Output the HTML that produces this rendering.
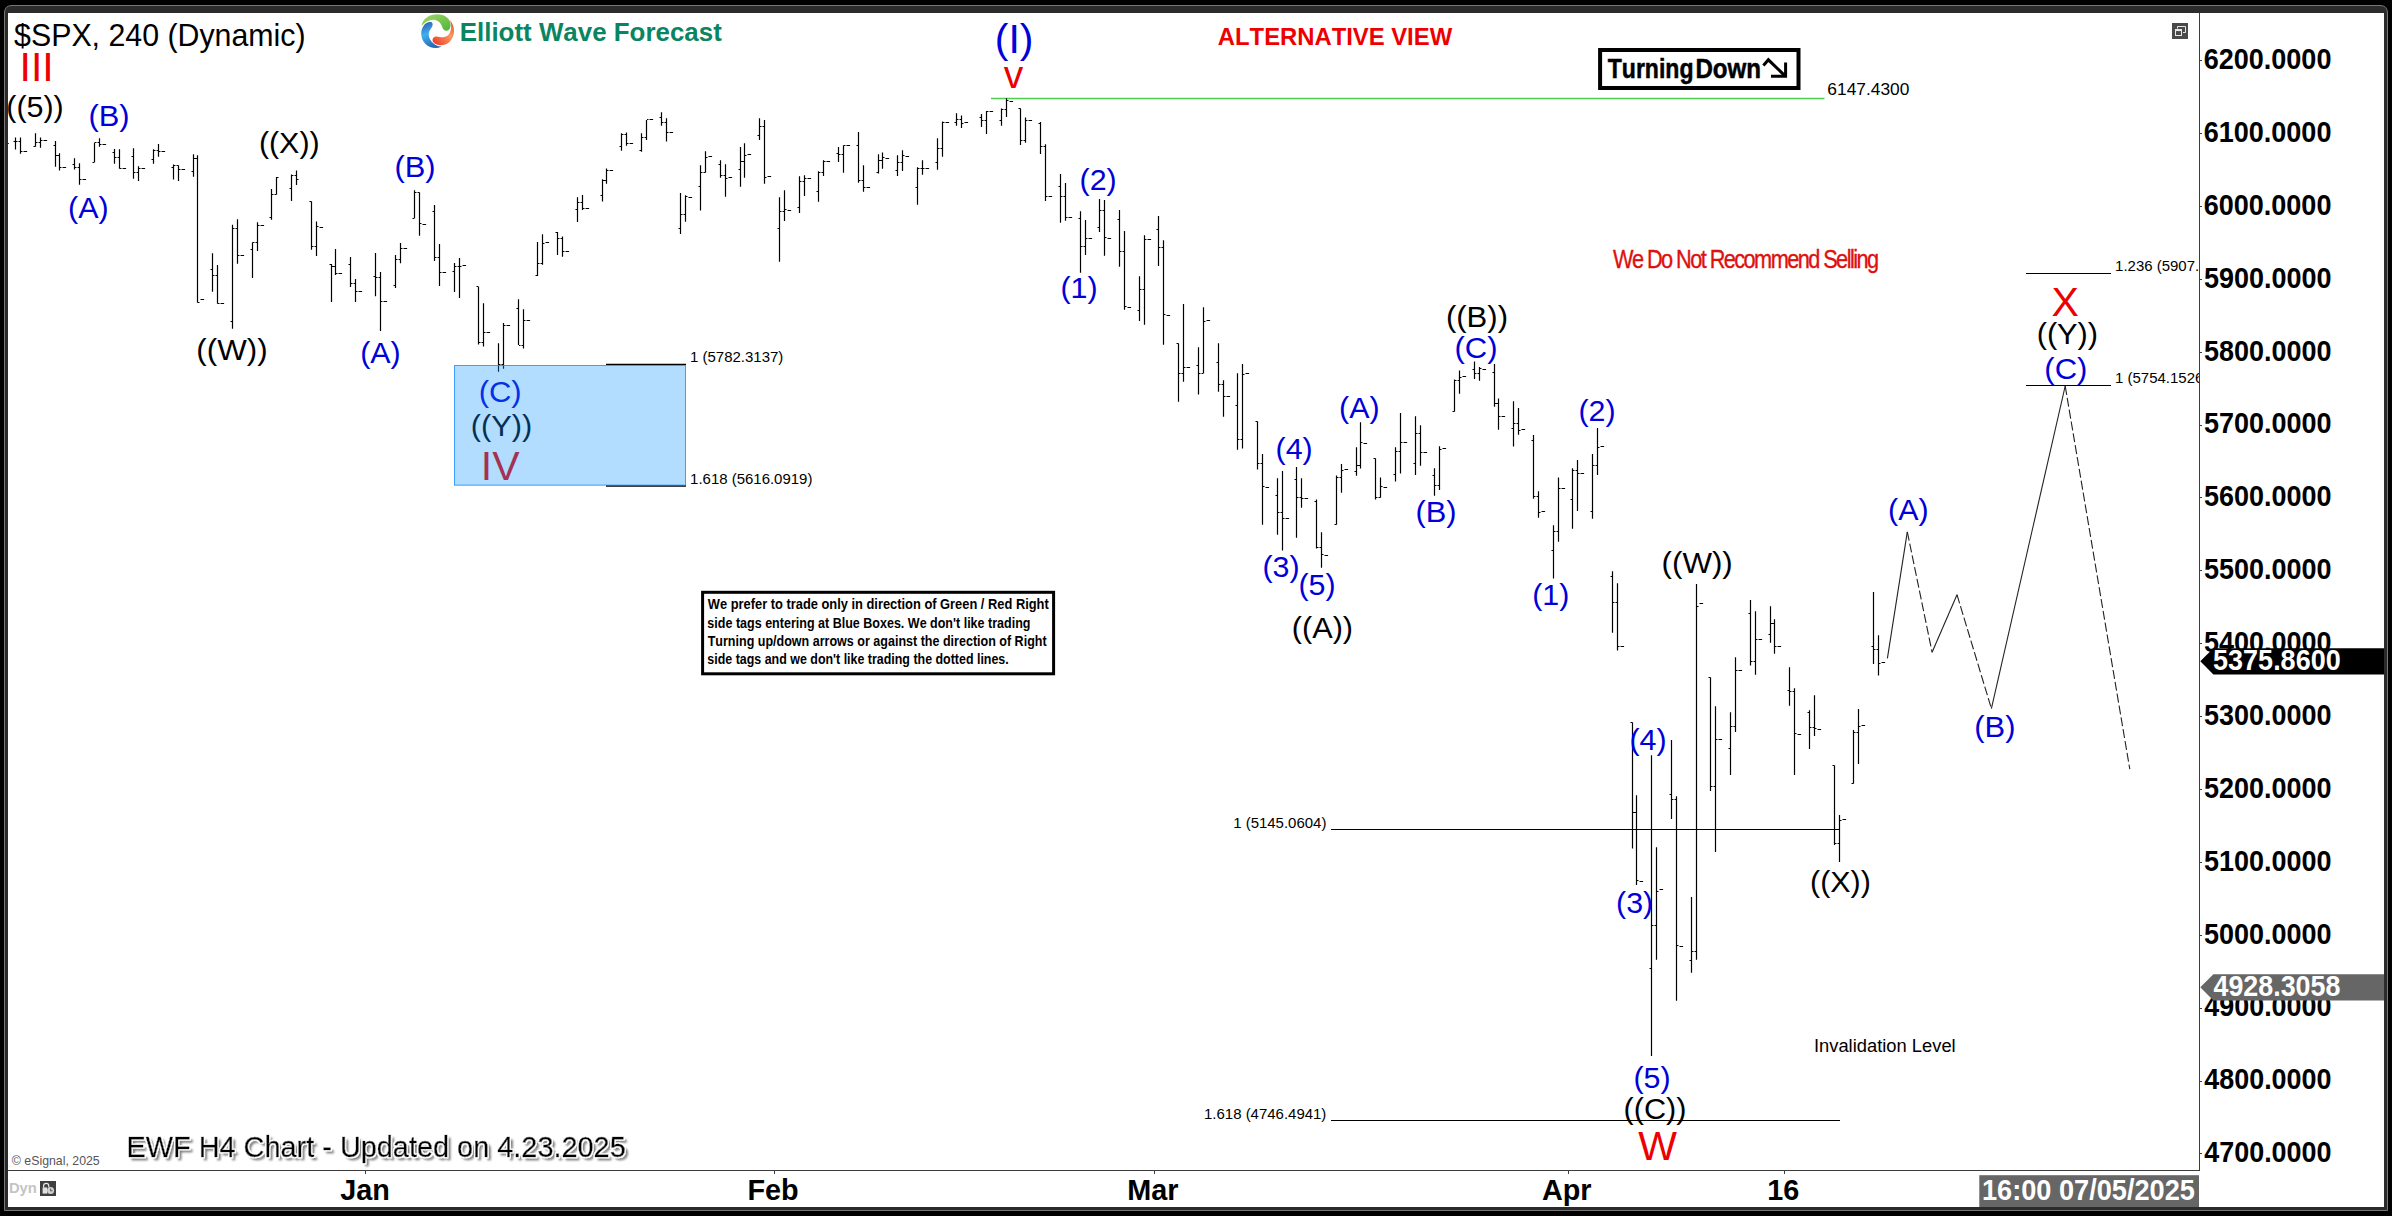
<!DOCTYPE html>
<html lang="en"><head><meta charset="utf-8"><title>$SPX, 240 (Dynamic) - Elliott Wave Forecast</title>
<style>
html,body{margin:0;padding:0;background:#000;}
body{width:2392px;height:1216px;overflow:hidden;}
svg{display:block;font-family:"Liberation Sans",sans-serif;}
text{white-space:pre;font-kerning:none;}
</style></head>
<body>
<svg width="2392" height="1216" viewBox="0 0 2392 1216">
<rect x="0" y="0" width="2392" height="1216" fill="#000"/>
<path d="M4.5 1210.5 V13 Q4.5 5.5 12 5.5 H2380 Q2387.5 5.5 2387.5 13 V1210.5 Z" fill="#2b2b2b" stroke="#777" stroke-width="1"/>
<rect x="8" y="13" width="2376" height="1194" fill="#fff"/>
<g stroke="#3c3c3c" stroke-width="1" shape-rendering="crispEdges">
<line x1="2199.5" y1="13" x2="2199.5" y2="1171.0"/>
<line x1="8" y1="1170.5" x2="2199.5" y2="1170.5"/>
<line x1="2199.5" y1="1153.5" x2="2202.0" y2="1153.5"/>
<line x1="2199.5" y1="1081.5" x2="2202.0" y2="1081.5"/>
<line x1="2199.5" y1="1008.5" x2="2202.0" y2="1008.5"/>
<line x1="2199.5" y1="935.5" x2="2202.0" y2="935.5"/>
<line x1="2199.5" y1="862.5" x2="2202.0" y2="862.5"/>
<line x1="2199.5" y1="789.5" x2="2202.0" y2="789.5"/>
<line x1="2199.5" y1="716.5" x2="2202.0" y2="716.5"/>
<line x1="2199.5" y1="643.5" x2="2202.0" y2="643.5"/>
<line x1="2199.5" y1="570.5" x2="2202.0" y2="570.5"/>
<line x1="2199.5" y1="497.5" x2="2202.0" y2="497.5"/>
<line x1="2199.5" y1="425.5" x2="2202.0" y2="425.5"/>
<line x1="2199.5" y1="352.5" x2="2202.0" y2="352.5"/>
<line x1="2199.5" y1="279.5" x2="2202.0" y2="279.5"/>
<line x1="2199.5" y1="206.5" x2="2202.0" y2="206.5"/>
<line x1="2199.5" y1="133.5" x2="2202.0" y2="133.5"/>
<line x1="2199.5" y1="60.5" x2="2202.0" y2="60.5"/>
<line x1="365.5" y1="1170.5" x2="365.5" y2="1173.5"/>
<line x1="774.5" y1="1170.5" x2="774.5" y2="1173.5"/>
<line x1="1154.5" y1="1170.5" x2="1154.5" y2="1173.5"/>
<line x1="1568.5" y1="1170.5" x2="1568.5" y2="1173.5"/>
<line x1="1784.5" y1="1170.5" x2="1784.5" y2="1173.5"/>
</g>
<g id="price-axis">
<text transform="translate(2203.75 69.00) scale(0.9382 1)" font-size="28.80" fill="#000" font-weight="bold">6200.0000</text>
<text transform="translate(2203.75 141.88) scale(0.9382 1)" font-size="28.80" fill="#000" font-weight="bold">6100.0000</text>
<text transform="translate(2203.75 214.76) scale(0.9382 1)" font-size="28.80" fill="#000" font-weight="bold">6000.0000</text>
<text transform="translate(2203.89 287.64) scale(0.9372 1)" font-size="28.80" fill="#000" font-weight="bold">5900.0000</text>
<text transform="translate(2203.89 360.52) scale(0.9372 1)" font-size="28.80" fill="#000" font-weight="bold">5800.0000</text>
<text transform="translate(2203.89 433.40) scale(0.9372 1)" font-size="28.80" fill="#000" font-weight="bold">5700.0000</text>
<text transform="translate(2203.89 506.28) scale(0.9372 1)" font-size="28.80" fill="#000" font-weight="bold">5600.0000</text>
<text transform="translate(2203.89 579.16) scale(0.9372 1)" font-size="28.80" fill="#000" font-weight="bold">5500.0000</text>
<text transform="translate(2203.89 652.04) scale(0.9372 1)" font-size="28.80" fill="#000" font-weight="bold">5400.0000</text>
<text transform="translate(2203.89 724.92) scale(0.9372 1)" font-size="28.80" fill="#000" font-weight="bold">5300.0000</text>
<text transform="translate(2203.89 797.80) scale(0.9372 1)" font-size="28.80" fill="#000" font-weight="bold">5200.0000</text>
<text transform="translate(2203.89 870.68) scale(0.9372 1)" font-size="28.80" fill="#000" font-weight="bold">5100.0000</text>
<text transform="translate(2203.89 943.56) scale(0.9372 1)" font-size="28.80" fill="#000" font-weight="bold">5000.0000</text>
<text transform="translate(2204.30 1016.44) scale(0.9342 1)" font-size="28.80" fill="#000" font-weight="bold">4900.0000</text>
<text transform="translate(2204.30 1089.32) scale(0.9342 1)" font-size="28.80" fill="#000" font-weight="bold">4800.0000</text>
<text transform="translate(2204.30 1162.20) scale(0.9342 1)" font-size="28.80" fill="#000" font-weight="bold">4700.0000</text>
</g>
<g id="time-axis">
<text x="340.25" y="1200.00" font-size="28.80" fill="#000" font-weight="bold">Jan</text>
<text x="747.45" y="1200.00" font-size="28.80" fill="#000" font-weight="bold">Feb</text>
<text x="1127.36" y="1200.00" font-size="28.80" fill="#000" font-weight="bold">Mar</text>
<text x="1541.92" y="1200.00" font-size="28.80" fill="#000" font-weight="bold">Apr</text>
<text x="1767.24" y="1200.00" font-size="28.80" fill="#000" font-weight="bold">16</text>
</g>
<line x1="991" y1="98.5" x2="1824.5" y2="98.5" stroke="#4fcf4f" stroke-width="1.3"/>
<text transform="translate(1827.33 94.90) scale(1.0039 1)" font-size="17.30" fill="#000">6147.4300</text>
<g id="bars" stroke="#000" stroke-width="1.2" fill="none">
<path d="M1006.5 98.2V117.0M1020.5 108.2V145.0M1001.5 108.6V125.8M986.5 111.1V133.9M661.5 112.3V125.7M956.5 113.2V125.8M981.5 114.1V127.0M961.5 115.4V127.9M1025.5 117.4V142.7M666.5 118.2V141.6M759.5 118.2V139.9M646.5 120.1V139.9M764.5 120.1V183.8M942.5 121.4V156.8M1040.5 122.0V154.0M858.5 132.0V182.8M626.5 132.4V145.8M35.5 133.2V146.7M621.5 133.2V150.8M641.5 133.2V151.7M20.5 137.4V153.7M40.5 137.4V147.7M15.5 137.6V149.5M99.5 138.3V146.7M937.5 138.3V169.7M55.5 141.1V166.7M94.5 142.4V162.5M744.5 143.3V177.8M158.5 144.1V156.7M1045.5 144.2V201.0M843.5 145.2V172.7M740.5 147.0V186.8M838.5 147.0V162.1M133.5 148.3V178.8M114.5 148.9V163.7M119.5 149.2V168.7M153.5 149.2V163.7M902.5 150.2V170.9M705.5 151.2V172.7M882.5 152.5V168.8M59.5 153.3V170.5M193.5 154.2V176.8M878.5 154.3V173.4M197.5 155.2V302.7M897.5 155.3V175.9M74.5 158.3V169.6M720.5 160.2V177.8M823.5 160.2V175.9M922.5 160.3V174.7M79.5 163.3V184.7M725.5 164.2V196.8M173.5 164.6V179.6M178.5 165.2V180.9M700.5 165.2V210.6M863.5 165.2V191.8M138.5 166.2V180.9M917.5 167.2V204.8M606.5 168.4V183.8M296.5 170.5V185.0M818.5 171.2V201.8M1060.5 174.1V222.7M291.5 174.6V201.0M804.5 175.3V195.9M799.5 176.3V212.9M276.5 177.1V194.7M602.5 179.3V201.6M1065.5 183.1V220.7M271.5 189.1V219.8M414.5 190.3V218.6M784.5 190.3V221.0M419.5 192.3V235.8M680.5 193.1V234.0M582.5 195.1V209.9M685.5 195.3V221.7M779.5 197.2V261.8M577.5 197.3V222.0M1099.5 199.0V232.0M1104.5 200.0V255.8M311.5 201.3V249.8M434.5 205.1V261.1M1119.5 210.1V266.8M1080.5 211.3V272.8M1158.5 216.1V265.9M237.5 219.2V263.8M1085.5 220.1V255.0M316.5 221.4V256.1M257.5 222.3V251.0M232.5 224.8V328.8M1124.5 231.1V309.8M557.5 232.1V255.0M542.5 234.2V264.7M1144.5 235.2V324.8M562.5 236.4V256.8M1163.5 240.2V344.8M537.5 242.1V275.9M252.5 242.3V277.9M400.5 243.1V263.2M439.5 244.0V286.0M335.5 249.0V274.9M375.5 252.9V296.2M212.5 253.2V291.7M395.5 255.1V287.9M350.5 256.9V287.0M459.5 258.0V297.9M454.5 263.0V291.9M331.5 264.1V302.1M217.5 265.1V303.7M380.5 272.0V330.9M1139.5 276.3V321.1M355.5 279.1V302.1M478.5 286.4V344.5M518.5 299.2V345.1M483.5 303.2V346.6M1183.5 304.1V381.7M1203.5 307.3V373.6M523.5 309.2V348.6M503.5 323.0V368.7M1178.5 343.2V401.7M1218.5 343.2V391.7M498.5 343.2V371.7M1198.5 347.3V394.6M1474.5 361.4V378.9M1242.5 364.1V448.5M1494.5 364.1V406.8M1479.5 367.0V380.8M1459.5 370.4V393.7M1237.5 373.3V449.8M1454.5 379.5V411.8M1223.5 380.2V416.8M1498.5 398.4V429.7M1513.5 401.2V446.6M1518.5 408.0V434.7M1400.5 413.0V473.6M1415.5 416.3V474.9M1257.5 421.3V469.5M1360.5 422.2V468.6M1420.5 425.3V465.7M1597.5 428.1V474.9M1533.5 435.1V498.7M1439.5 446.3V489.9M1356.5 447.3V475.7M1395.5 447.3V481.6M1262.5 454.0V524.7M1592.5 454.0V518.8M1375.5 458.2V499.6M1577.5 460.1V510.9M1341.5 464.1V492.7M1296.5 467.0V537.8M1434.5 468.2V495.8M1572.5 468.2V528.8M1282.5 471.1V550.6M1336.5 475.4V524.7M1380.5 477.4V497.7M1558.5 477.4V541.8M1277.5 478.3V534.7M1301.5 478.3V507.7M1538.5 491.2V517.8M1316.5 499.6V548.5M1553.5 525.3V578.6M1321.5 532.2V567.7M1612.5 571.3V632.7M1617.5 583.2V650.6M1696.5 584.1V959.8M1873.5 592.0V663.9M1750.5 600.1V665.6M1770.5 606.2V642.8M1755.5 611.2V674.8M1774.5 619.2V653.8M1878.5 635.3V675.6M1735.5 657.2V732.0M1789.5 667.2V705.7M1710.5 677.3V790.9M1794.5 688.2V775.0M1814.5 695.2V736.1M1715.5 706.3V851.9M1858.5 709.0V764.0M1809.5 710.3V748.9M1730.5 712.3V775.0M1632.5 722.3V848.6M1853.5 730.1V783.8M1671.5 740.1V818.9M1651.5 755.2V1055.9M1834.5 765.2V844.9M1636.5 795.3V884.9M1676.5 796.3V1000.7M1839.5 815.1V861.9M1656.5 847.3V959.8M1691.5 897.1V972.7M7.8 143.5H8.8M13.5 141.5H15.0M16.0 141.5H17.5M18.5 141.5H20.0M21.0 151.5H22.5M23.5 151.5H27.1M33.5 146.5H35.0M36.0 142.5H37.5M38.5 142.5H40.0M41.0 140.5H42.5M43.5 140.5H47.1M53.5 145.5H55.0M56.0 155.5H59.0M60.0 167.5H61.5M62.5 167.5H66.1M72.5 164.5H74.0M75.0 167.5H76.5M77.5 167.5H79.0M80.0 179.5H81.5M82.5 179.5H86.1M92.5 162.5H94.0M95.0 142.5H96.5M97.5 142.5H99.0M100.0 144.5H101.5M102.5 144.5H106.1M112.5 152.5H114.0M115.0 157.5H116.5M117.5 157.5H119.0M120.0 168.5H121.5M122.5 168.5H126.1M131.5 156.5H133.0M134.0 172.5H135.5M136.5 172.5H138.0M139.0 168.5H140.5M141.5 168.5H145.1M151.5 159.5H153.0M154.0 150.5H155.5M156.5 150.5H158.0M159.0 151.5H160.5M161.5 151.5H165.1M171.5 167.5H173.0M174.0 165.5H175.5M176.5 165.5H178.0M179.0 169.5H180.5M181.5 169.5H185.1M191.5 171.5H193.0M194.0 158.5H197.0M233.0 228.5H234.5M235.5 228.5H237.0M253.0 242.5H254.5M255.5 242.5H257.0M258.0 225.5H259.5M260.5 225.5H264.1M269.5 217.5H271.0M272.0 194.5H273.5M274.5 194.5H276.0M277.0 177.5H278.5M289.5 188.5H291.0M292.0 175.5H293.5M294.5 175.5H296.0M297.0 179.5H298.5M198.0 302.5H199.5M200.5 299.5H204.1M210.5 269.5H212.0M213.0 275.5H214.5M215.5 275.5H217.0M218.0 303.5H219.5M220.5 303.5H224.1M230.5 321.5H232.0M238.0 255.5H239.5M240.5 255.5H244.1M250.5 249.5H252.0M312.0 246.5H313.5M314.5 246.5H316.0M329.5 264.5H331.0M332.0 266.5H335.0M336.0 273.5H337.5M338.5 273.5H342.1M348.5 264.5H350.0M351.0 283.5H352.5M353.5 283.5H355.0M356.0 291.5H357.5M358.5 291.5H362.1M373.5 276.5H375.0M376.0 277.5H377.5M378.5 277.5H380.0M381.0 301.5H382.5M383.5 301.5H387.1M393.5 285.5H395.0M396.0 259.5H397.5M398.5 259.5H400.0M401.0 248.5H402.5M403.5 248.5H407.1M435.0 257.5H436.5M437.5 257.5H439.0M440.0 272.5H441.5M442.5 272.5H446.1M309.5 201.5H311.0M317.0 226.5H318.5M319.5 227.5H323.1M412.5 218.5H414.0M415.0 192.5H416.5M417.5 192.5H419.0M420.0 223.5H421.5M422.5 224.5H426.1M432.5 211.5H434.0M452.5 271.5H454.0M455.0 266.5H456.5M457.5 266.5H459.0M460.0 266.5H461.5M462.5 265.5H466.1M476.5 286.5H478.0M504.0 325.5H505.5M506.5 325.5H510.1M516.5 308.5H518.0M524.0 320.5H525.5M526.5 320.5H530.1M535.5 275.5H537.0M538.0 263.5H539.5M540.5 263.5H542.0M543.0 243.5H544.5M545.5 242.5H549.1M555.5 232.5H557.0M558.0 238.5H559.5M560.5 238.5H562.0M563.0 251.5H564.5M565.5 251.5H569.1M575.5 209.5H577.0M578.0 202.5H579.5M580.5 202.5H582.0M583.0 208.5H584.5M585.5 208.5H589.1M479.0 342.5H480.5M481.5 342.5H483.0M484.0 332.5H485.5M486.5 332.5H490.1M499.0 364.5H500.5M501.5 364.5H503.0M519.0 345.5H520.5M521.5 345.5H523.0M600.5 195.5H602.0M603.0 180.5H606.0M607.0 170.5H608.5M609.5 170.5H613.1M619.5 146.5H621.0M622.0 134.5H623.5M624.5 134.5H626.0M627.0 143.5H628.5M629.5 143.5H633.1M639.5 150.5H641.0M642.0 137.5H643.5M644.5 137.5H646.0M647.0 119.5H648.5M649.5 119.5H653.1M659.5 117.5H661.0M662.0 122.5H663.5M664.5 122.5H666.0M667.0 132.5H668.5M669.5 132.5H673.1M678.5 228.5H680.0M681.0 214.5H682.5M683.5 214.5H685.0M686.0 196.5H687.5M688.5 197.5H692.1M698.5 186.5H700.0M701.0 172.5H702.5M703.5 172.5H705.0M706.0 157.5H707.5M708.5 156.5H712.1M718.5 164.5H720.0M721.0 175.5H722.5M723.5 175.5H725.0M726.0 178.5H727.5M728.5 177.5H732.1M738.5 169.5H740.0M741.0 161.5H744.0M745.0 155.5H746.5M747.5 154.5H751.1M757.5 135.5H759.0M760.0 126.5H761.5M762.5 126.5H764.0M765.0 177.5H766.5M767.5 176.5H771.1M777.5 228.5H779.0M780.0 211.5H781.5M782.5 211.5H784.0M785.0 209.5H786.5M787.5 210.5H791.1M797.5 207.5H799.0M800.0 181.5H801.5M802.5 181.5H804.0M805.0 178.5H806.5M807.5 178.5H811.1M816.5 191.5H818.0M819.0 172.5H820.5M821.5 172.5H823.0M824.0 161.5H825.5M826.5 161.5H830.1M836.5 153.5H838.0M839.0 154.5H840.5M841.5 154.5H843.0M844.0 145.5H845.5M846.5 145.5H850.1M856.5 145.5H858.0M859.0 180.5H860.5M861.5 180.5H863.0M864.0 187.5H865.5M866.5 187.5H870.1M876.5 172.5H878.0M879.0 160.5H882.0M883.0 157.5H884.5M885.5 158.5H889.1M895.5 170.5H897.0M898.0 162.5H899.5M900.5 162.5H902.0M903.0 155.5H904.5M905.5 156.5H909.1M915.5 187.5H917.0M918.0 168.5H919.5M920.5 168.5H922.0M923.0 168.5H924.5M925.5 168.5H929.1M935.5 162.5H937.0M938.0 148.5H939.5M940.5 148.5H942.0M943.0 122.5H944.5M945.5 122.5H949.1M954.5 122.5H956.0M957.0 119.5H958.5M959.5 119.5H961.0M962.0 123.5H963.5M964.5 122.5H968.1M979.5 117.5H981.0M982.0 120.5H983.5M984.5 120.5H986.0M987.0 111.5H988.5M989.5 111.5H993.1M999.5 120.5H1001.0M1002.0 109.5H1003.5M1004.5 109.5H1006.0M1007.0 100.5H1008.5M1009.5 101.5H1013.1M1018.5 108.5H1020.0M1021.0 140.5H1022.5M1023.5 140.5H1025.0M1026.0 120.5H1027.5M1028.5 120.5H1032.1M1038.5 123.5H1040.0M1041.0 146.5H1042.5M1043.5 146.5H1045.0M1046.0 196.5H1047.5M1048.5 196.5H1052.1M1058.5 186.5H1060.0M1061.0 196.5H1062.5M1063.5 196.5H1065.0M1066.0 217.5H1067.5M1068.5 217.5H1072.1M1078.5 218.5H1080.0M1081.0 246.5H1082.5M1083.5 246.5H1085.0M1086.0 238.5H1087.5M1088.5 238.5H1092.1M1097.5 227.5H1099.0M1100.0 210.5H1101.5M1102.5 210.5H1104.0M1105.0 237.5H1106.5M1107.5 238.5H1111.1M1117.5 219.5H1119.0M1120.0 251.5H1121.5M1122.5 251.5H1124.0M1125.0 306.5H1126.5M1127.5 307.5H1131.1M1137.5 310.5H1139.0M1140.0 289.5H1141.5M1142.5 289.5H1144.0M1145.0 239.5H1146.5M1147.5 239.5H1151.1M1156.5 229.5H1158.0M1159.0 247.5H1160.5M1161.5 247.5H1163.0M1164.0 314.5H1165.5M1166.5 315.5H1170.1M1204.0 321.5H1205.5M1206.5 320.5H1210.1M1176.5 343.5H1178.0M1179.0 373.5H1180.5M1181.5 373.5H1183.0M1184.0 367.5H1185.5M1186.5 367.5H1190.1M1196.5 365.5H1198.0M1199.0 373.5H1200.5M1201.5 373.5H1203.0M1216.5 362.5H1218.0M1219.0 384.5H1220.5M1221.5 384.5H1223.0M1224.0 396.5H1225.5M1226.5 396.5H1230.1M1235.5 405.5H1237.0M1238.0 439.5H1239.5M1240.5 439.5H1242.0M1243.0 374.5H1244.5M1245.5 373.5H1249.1M1255.5 421.5H1257.0M1258.0 463.5H1259.5M1260.5 463.5H1262.0M1354.5 471.5H1356.0M1357.0 465.5H1360.0M1361.0 442.5H1362.5M1363.5 443.5H1367.1M1393.5 474.5H1395.0M1396.0 451.5H1397.5M1398.5 451.5H1400.0M1401.0 442.5H1402.5M1403.5 442.5H1407.1M1413.5 463.5H1415.0M1416.0 433.5H1417.5M1418.5 433.5H1420.0M1421.0 452.5H1422.5M1423.5 452.5H1427.1M1263.0 486.5H1264.5M1265.5 487.5H1269.1M1275.5 495.5H1277.0M1278.0 512.5H1279.5M1280.5 512.5H1282.0M1283.0 518.5H1284.5M1285.5 518.5H1289.1M1294.5 479.5H1296.0M1297.0 497.5H1298.5M1299.5 497.5H1301.0M1302.0 498.5H1303.5M1304.5 498.5H1308.1M1314.5 501.5H1316.0M1317.0 547.5H1318.5M1319.5 547.5H1321.0M1322.0 554.5H1323.5M1324.5 555.5H1328.1M1334.5 524.5H1336.0M1337.0 477.5H1338.5M1339.5 477.5H1341.0M1342.0 470.5H1343.5M1344.5 469.5H1348.1M1373.5 458.5H1375.0M1376.0 497.5H1377.5M1378.5 497.5H1380.0M1381.0 486.5H1382.5M1383.5 487.5H1387.1M1432.5 475.5H1434.0M1435.0 485.5H1436.5M1437.5 485.5H1439.0M1440.0 449.5H1441.5M1442.5 448.5H1446.1M1452.5 411.5H1454.0M1455.0 380.5H1456.5M1457.5 380.5H1459.0M1460.0 377.5H1461.5M1462.5 376.5H1466.1M1472.5 369.5H1474.0M1475.0 373.5H1476.5M1477.5 373.5H1479.0M1480.0 368.5H1481.5M1482.5 369.5H1486.1M1492.5 372.5H1494.0M1495.0 403.5H1498.0M1499.0 416.5H1500.5M1501.5 416.5H1505.1M1511.5 428.5H1513.0M1514.0 423.5H1515.5M1516.5 423.5H1518.0M1519.0 430.5H1520.5M1521.5 429.5H1525.1M1531.5 440.5H1533.0M1598.0 447.5H1599.5M1600.5 446.5H1604.1M1534.0 496.5H1535.5M1536.5 496.5H1538.0M1539.0 512.5H1540.5M1541.5 511.5H1545.1M1551.5 550.5H1553.0M1554.0 531.5H1555.5M1556.5 531.5H1558.0M1559.0 488.5H1560.5M1561.5 488.5H1565.1M1570.5 499.5H1572.0M1573.0 470.5H1574.5M1575.5 470.5H1577.0M1578.0 473.5H1579.5M1580.5 473.5H1584.1M1590.5 511.5H1592.0M1593.0 465.5H1594.5M1595.5 465.5H1597.0M1610.5 576.5H1612.0M1613.0 602.5H1614.5M1615.5 602.5H1617.0M1618.0 646.5H1619.5M1620.5 646.5H1624.1M1697.0 606.5H1698.5M1699.5 603.5H1703.1M1708.5 677.5H1710.0M1736.0 670.5H1737.5M1738.5 670.5H1742.1M1748.5 613.5H1750.0M1751.0 661.5H1752.5M1753.5 661.5H1755.0M1756.0 639.5H1757.5M1758.5 639.5H1762.1M1768.5 634.5H1770.0M1771.0 623.5H1774.0M1775.0 646.5H1776.5M1777.5 646.5H1781.1M1787.5 690.5H1789.0M1790.0 691.5H1791.5M1792.5 691.5H1794.0M1871.5 646.5H1873.0M1874.0 649.5H1875.5M1876.5 649.5H1878.0M1879.0 663.5H1880.5M1881.5 662.5H1885.1M1630.5 722.5H1632.0M1633.0 812.5H1636.0M1669.5 794.5H1671.0M1672.0 799.5H1673.5M1674.5 799.5H1676.0M1711.0 786.5H1712.5M1713.5 786.5H1715.0M1716.0 739.5H1717.5M1718.5 739.5H1722.1M1728.5 748.5H1730.0M1731.0 726.5H1732.5M1733.5 726.5H1735.0M1795.0 733.5H1796.5M1797.5 734.5H1801.1M1807.5 712.5H1809.0M1810.0 727.5H1811.5M1812.5 727.5H1814.0M1815.0 728.5H1816.5M1817.5 729.5H1821.1M1832.5 765.5H1834.0M1835.0 843.5H1836.5M1837.5 843.5H1839.0M1840.0 820.5H1841.5M1842.5 819.5H1846.1M1851.5 783.5H1853.0M1854.0 732.5H1855.5M1856.5 732.5H1858.0M1859.0 726.5H1860.5M1861.5 725.5H1865.1M1637.0 880.5H1638.5M1639.5 881.5H1643.1M1649.5 968.5H1651.0M1652.0 925.5H1653.5M1654.5 925.5H1656.0M1657.0 891.5H1658.5M1659.5 889.5H1663.1M1677.0 945.5H1678.5M1679.5 946.5H1683.1M1689.5 960.5H1691.0M1692.0 951.5H1693.5M1694.5 951.5H1696.0"/>
</g>
<g stroke="#000" stroke-width="1" shape-rendering="crispEdges">
<line x1="1331" y1="829.5" x2="1840" y2="829.5"/>
<line x1="1331" y1="1120.5" x2="1840" y2="1120.5"/>
<line x1="2026" y1="273.5" x2="2111" y2="273.5"/>
<line x1="2026" y1="385.5" x2="2111" y2="385.5"/>
</g>
<g stroke="#222" stroke-width="1.1" fill="none">
<line x1="1887.4" y1="658.3" x2="1907.3" y2="531.8"/>
<line x1="1907.3" y1="531.8" x2="1932.1" y2="652.3" stroke-dasharray="9 3"/>
<line x1="1932.1" y1="652.3" x2="1957" y2="594.7"/>
<line x1="1957" y1="594.7" x2="1991.4" y2="708.6" stroke-dasharray="9 3"/>
<line x1="1991.4" y1="708.6" x2="2065.2" y2="386"/>
<line x1="2065.2" y1="386" x2="2129.8" y2="769.2" stroke-dasharray="9 3"/>
</g>
<g id="wave-labels">
<text x="6.27" y="117.40" font-size="30.40" fill="#000">((5))</text>
<text transform="translate(88.50 125.80) scale(1.0153 1)" font-size="30.40" fill="#0000d8">(B)</text>
<text x="68.11" y="217.50" font-size="30.40" fill="#0000d8">(A)</text>
<text x="258.88" y="153.30" font-size="30.40" fill="#000">((X))</text>
<text transform="translate(196.32 360.20) scale(1.0305 1)" font-size="30.40" fill="#000">((W))</text>
<text x="360.21" y="362.90" font-size="30.40" fill="#0000d8">(A)</text>
<text transform="translate(394.40 176.70) scale(1.0153 1)" font-size="30.40" fill="#0000d8">(B)</text>
<text x="1079.59" y="189.70" font-size="30.40" fill="#0000d8">(2)</text>
<text x="1060.39" y="297.60" font-size="30.40" fill="#0000d8">(1)</text>
<text x="1275.59" y="458.60" font-size="30.40" fill="#0000d8">(4)</text>
<text x="1339.11" y="417.80" font-size="30.40" fill="#0000d8">(A)</text>
<text x="1262.39" y="576.70" font-size="30.40" fill="#0000d8">(3)</text>
<text x="1298.49" y="595.00" font-size="30.40" fill="#0000d8">(5)</text>
<text transform="translate(1291.86 638.10) scale(1.0073 1)" font-size="30.40" fill="#000">((A))</text>
<text transform="translate(1415.40 521.80) scale(1.0153 1)" font-size="30.40" fill="#0000d8">(B)</text>
<text transform="translate(1445.94 327.10) scale(1.0213 1)" font-size="30.40" fill="#000">((B))</text>
<text transform="translate(1454.44 357.60) scale(1.0204 1)" font-size="30.40" fill="#0000d8">(C)</text>
<text x="1578.39" y="420.90" font-size="30.40" fill="#0000d8">(2)</text>
<text x="1532.19" y="604.70" font-size="30.40" fill="#0000d8">(1)</text>
<text transform="translate(1661.52 573.00) scale(1.0305 1)" font-size="30.40" fill="#000">((W))</text>
<text x="1629.39" y="749.90" font-size="30.40" fill="#0000d8">(4)</text>
<text x="1616.09" y="912.50" font-size="30.40" fill="#0000d8">(3)</text>
<text x="1810.08" y="892.00" font-size="30.40" fill="#000">((X))</text>
<text x="1633.39" y="1087.60" font-size="30.40" fill="#0000d8">(5)</text>
<text transform="translate(1623.61 1118.60) scale(1.0075 1)" font-size="30.40" fill="#000">((C))</text>
<text x="1888.11" y="519.90" font-size="30.40" fill="#0000d8">(A)</text>
<text transform="translate(1974.30 737.10) scale(1.0153 1)" font-size="30.40" fill="#0000d8">(B)</text>
<text transform="translate(2036.66 343.50) scale(1.0108 1)" font-size="30.40" fill="#000">((Y))</text>
<text transform="translate(2044.34 378.60) scale(1.0204 1)" font-size="30.40" fill="#0000d8">(C)</text>
<text x="19.57" y="80.60" font-size="41.00" fill="#ec0000">III</text>
<text x="994.81" y="52.80" font-size="41.00" fill="#0000d8">(I)</text>
<text x="1003.85" y="87.60" font-size="39.00" fill="#ec0000">v</text>
<text x="1638.13" y="1160.40" font-size="41.00" fill="#ec0000">W</text>
<text x="2051.46" y="316.20" font-size="41.00" fill="#ec0000">X</text>
<text transform="translate(478.64 401.80) scale(1.0204 1)" font-size="30.40" fill="#0000d8">(C)</text>
<text transform="translate(470.76 435.60) scale(1.0108 1)" font-size="30.40" fill="#000">((Y))</text>
<text x="480.83" y="480.30" font-size="41.00" fill="#ec0000">IV</text>
</g>
<rect x="454" y="365" width="232" height="120.6" fill="#0e95ff" fill-opacity="0.32"/>
<rect x="454.5" y="365.5" width="231" height="119.6" fill="none" stroke="#1e90ff" stroke-opacity="0.8" stroke-width="1"/>
<g stroke="#000" stroke-width="1.3">
<line x1="606" y1="364.3" x2="686" y2="364.3"/>
<line x1="606" y1="486.2" x2="686" y2="486.2"/>
</g>
<text transform="translate(690.08 362.00) scale(1.0123 1)" font-size="14.80" fill="#000">1 (5782.3137)</text>
<text transform="translate(690.08 483.60) scale(1.0123 1)" font-size="14.80" fill="#000">1.618 (5616.0919)</text>
<text transform="translate(1233.18 827.60) scale(1.0123 1)" font-size="14.80" fill="#000">1 (5145.0604)</text>
<text transform="translate(1204.02 1118.60) scale(1.0123 1)" font-size="14.80" fill="#000">1.618 (4746.4941)</text>
<clipPath id="cl"><rect x="2000" y="200" width="199" height="300"/></clipPath>
<g clip-path="url(#cl)">
<text transform="translate(2115.08 270.60) scale(1.0123 1)" font-size="14.80" fill="#000">1.236 (5907.</text>
<text transform="translate(2115.08 382.50) scale(1.0123 1)" font-size="14.80" fill="#000">1 (5754.1526</text>
</g>
<text transform="translate(14.10 45.80) scale(0.9782 1)" font-size="31.00" fill="#000">$SPX, 240 (Dynamic)</text>
<text transform="translate(459.71 40.90) scale(1.0127 1)" font-size="25.60" fill="#0a8562" font-weight="bold">Elliott Wave Forecast</text>
<text transform="translate(1217.82 45.20) scale(0.9934 1)" font-size="24.00" fill="#ee0000" font-weight="bold">ALTERNATIVE VIEW</text>
<text transform="translate(1613.00 267.5) scale(0.87 1)" font-size="25.0" fill="#e01010" stroke="#e01010" stroke-width="0.35" letter-spacing="-1.808">We Do Not Recommend Selling</text>
<text transform="translate(1813.95 1051.80) scale(1.0367 1)" font-size="17.70" fill="#000">Invalidation Level</text>
<defs>
<linearGradient id="lg1" x1="0" y1="0" x2="1" y2="1"><stop offset="0" stop-color="#a5d867"/><stop offset="1" stop-color="#4fb53a"/></linearGradient>
<linearGradient id="lg2" x1="0" y1="0" x2="0.3" y2="1"><stop offset="0" stop-color="#2e56a8"/><stop offset="0.5" stop-color="#3fb0ee"/><stop offset="1" stop-color="#2a6cb8"/></linearGradient>
<linearGradient id="lg3" x1="0" y1="1" x2="1" y2="0"><stop offset="0" stop-color="#f0301c"/><stop offset="0.6" stop-color="#f99a66"/><stop offset="1" stop-color="#e04a22"/></linearGradient>
</defs>
<g id="logo">
<path d="M421.4 26 C423 18 430 14.2 437 14.2 C445 14.2 451 19 450.6 25.5 C450.4 29.5 447.6 31.6 445.2 30.6 C441.5 29 443 25 438.5 21.5 C433.5 18 427 20 421.4 26 Z" fill="url(#lg1)"/>
<path d="M430.8 22 C433.6 22.6 433 26 431 28.5 C427.5 33 428 38 433 43 C436 46 439.5 46.6 441.6 46.2 C437.5 49.2 430 48.8 425.5 44 C420 38 420 30 424.5 24.5 C426.3 22.4 428.8 21.6 430.8 22 Z" fill="url(#lg2)"/>
<path d="M449.8 20 C455.5 26 455.5 36 449.5 42 C444.5 46.5 437 46 433.6 42.6 C431.6 40.4 432.6 37.2 435.8 36.6 C439 36 442 38.6 446 36.6 C451 34 452.5 27 449.8 20 Z" fill="url(#lg3)"/>
</g>
<rect x="1600.1" y="50" width="198.4" height="38" fill="#fff" stroke="#000" stroke-width="4"/>
<text transform="translate(1607.77 77.80) scale(0.8379 1)" font-size="27.50" fill="#000" font-weight="bold" stroke="#000" stroke-width="0.5">Turning</text>
<text transform="translate(1695.43 77.80) scale(0.8769 1)" font-size="27.50" fill="#000" font-weight="bold" stroke="#000" stroke-width="0.5">Down</text>
<path d="M1763.4 65.6 L1768.4 59.8 L1784.6 75.4 M1771 76.3 H1785.6 V62.4" fill="none" stroke="#000" stroke-width="3" stroke-linejoin="miter"/>
<rect x="702.6" y="592.3" width="351" height="81.5" fill="#fff" stroke="#000" stroke-width="3"/>
<g id="note">
<text transform="translate(707.80 609.40) scale(0.9006 1)" font-size="14.30" fill="#000" font-weight="bold">We prefer to trade only in direction of Green / Red Right</text>
<text transform="translate(707.36 627.70) scale(0.8763 1)" font-size="14.30" fill="#000" font-weight="bold">side tags entering at Blue Boxes. We don't like trading</text>
<text transform="translate(707.67 645.90) scale(0.8768 1)" font-size="14.30" fill="#000" font-weight="bold">Turning up/down arrows or against the direction of Right</text>
<text transform="translate(707.36 664.20) scale(0.8703 1)" font-size="14.30" fill="#000" font-weight="bold">side tags and we don't like trading the dotted lines.</text>
</g>
<defs><filter id="sh" x="-5%" y="-30%" width="110%" height="180%"><feOffset in="SourceAlpha" dx="2.8" dy="2.8" result="o"/><feGaussianBlur in="o" stdDeviation="1.0" result="b"/><feFlood flood-color="#000" flood-opacity="0.55"/><feComposite in2="b" operator="in" result="shadow"/><feMorphology in="SourceAlpha" operator="dilate" radius="0.9" result="d"/><feGaussianBlur in="d" stdDeviation="0.4" result="d2"/><feFlood flood-color="#fff"/><feComposite in2="d2" operator="in" result="halo"/><feMerge><feMergeNode in="shadow"/><feMergeNode in="halo"/><feMergeNode in="SourceGraphic"/></feMerge></filter></defs>
<text transform="translate(126.49 1157.10) scale(0.9505 1)" font-size="30.40" fill="#000" stroke="#000" stroke-width="0.45" filter="url(#sh)">EWF H4 Chart - Updated on 4.23.2025</text>
<text transform="translate(11.81 1165.40) scale(0.9073 1)" font-size="13.60" fill="#555">© eSignal, 2025</text>
<text transform="translate(8.94 1192.90) scale(1.0099 1)" font-size="14.60" fill="#c4c4c4" font-weight="bold">Dyn</text>
<rect x="40" y="1181" width="16" height="15" fill="#3f3f3f"/>
<path d="M43.6 1187.5 V1186 a2.6 2.6 0 0 1 5.2 0 V1187.5" fill="none" stroke="#e8e8e8" stroke-width="1.2"/>
<rect x="42.6" y="1187.4" width="4.6" height="6.2" fill="#e0e0e0"/>
<circle cx="50.6" cy="1190.6" r="3.5" fill="#d0d0d0"/>
<path d="M50.6 1188.6 V1190.8 H52.4" fill="none" stroke="#3f3f3f" stroke-width="0.9"/>
<rect x="2172" y="23" width="16" height="16" fill="#4a4a4a"/>
<path d="M2177.5 28.5 V26.5 H2185.5 V32.5 H2183" fill="none" stroke="#e8e8e8" stroke-width="1"/>
<rect x="2175.5" y="29.5" width="6" height="6" fill="none" stroke="#e8e8e8" stroke-width="1"/>
<line x1="2175" y1="30.3" x2="2182" y2="30.3" stroke="#e8e8e8" stroke-width="1.6"/>
<path d="M2200.3 661.3 L2213.4 648.2 H2384 V674.6 H2213.4 Z" fill="#000"/>
<text transform="translate(2213.09 670.20) scale(0.9372 1)" font-size="28.80" fill="#fff" font-weight="bold">5375.8600</text>
<path d="M2200.3 987.3 L2213.4 974.2 H2384 V1000.6 H2213.4 Z" fill="#666"/>
<text transform="translate(2213.50 996.20) scale(0.9322 1)" font-size="28.80" fill="#fff" font-weight="bold">4928.3058</text>
<rect x="1979.3" y="1175.2" width="219.7" height="31.8" fill="#666"/>
<text transform="translate(1981.97 1200.20) scale(0.9430 1)" font-size="28.80" fill="#fff" font-weight="bold">16:00 07/05/2025</text>
</svg>
</body></html>
